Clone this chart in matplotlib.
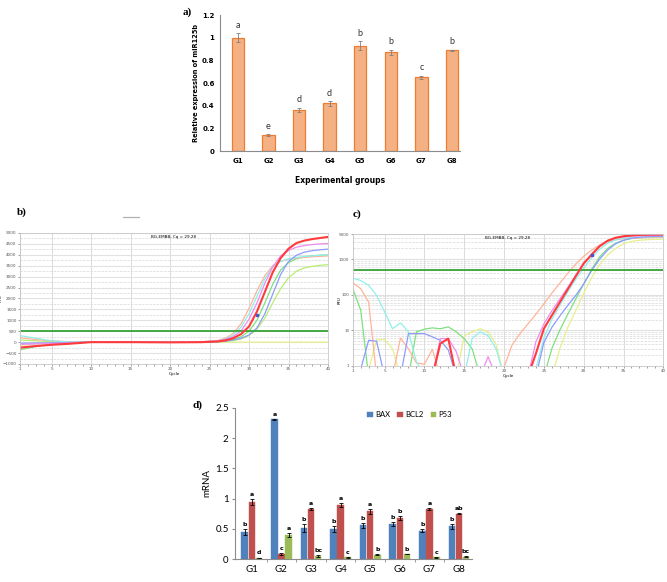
import numpy as np
import matplotlib
matplotlib.use('Agg')
import matplotlib.pyplot as plt
from matplotlib.ticker import FixedLocator, NullFormatter
from matplotlib.lines import Line2D

# ---------------------------------------------------------------- data
groups = ['G1', 'G2', 'G3', 'G4', 'G5', 'G6', 'G7', 'G8']

# a) miR125b
mir = [1.0, 0.14, 0.36, 0.42, 0.93, 0.87, 0.65, 0.89]
mir_err = [0.04, 0.01, 0.02, 0.02, 0.04, 0.025, 0.015, 0.005]
mir_lett = ['a', 'e', 'd', 'd', 'b', 'b', 'c', 'b']

# d) genes
bax = [0.45, 2.31, 0.51, 0.49, 0.56, 0.58, 0.47, 0.54]
bax_err = [0.05, 0.01, 0.07, 0.05, 0.04, 0.03, 0.03, 0.04]
bax_lett = ['b', 'a', 'b', 'b', 'b', 'b', 'b', 'b']
bcl2 = [0.94, 0.08, 0.83, 0.89, 0.79, 0.68, 0.83, 0.75]
bcl2_err = [0.05, 0.02, 0.02, 0.03, 0.04, 0.03, 0.02, 0.01]
bcl2_lett = ['a', 'c', 'a', 'a', 'a', 'b', 'a', 'ab']
p53 = [0.02, 0.40, 0.05, 0.03, 0.07, 0.08, 0.03, 0.04]
p53_err = [0.005, 0.03, 0.01, 0.005, 0.005, 0.005, 0.005, 0.005]
p53_lett = ['d', 'a', 'bc', 'c', 'b', 'b', 'c', 'bc']

# b) amplification curves (linear RFU)
cyc_b = [1, 3, 5, 7, 10, 15, 20, 24, 26, 27, 28, 29, 30, 31, 32, 33, 34, 35, 36, 37, 38, 39, 40]
b_red = [-250, -180, -120, -80, 0, 0, -10, 0, 30, 80, 180, 370, 720, 1400, 2300, 3200, 3850, 4280, 4540, 4650, 4720, 4770, 4820]
b_pink = [-100, -80, -60, -40, 0, 0, -10, 10, 60, 130, 250, 520, 1050, 1800, 2700, 3450, 3950, 4200, 4350, 4420, 4470, 4500, 4520]
b_salmon = [200, 120, 60, 20, 0, 0, -10, 20, 80, 180, 400, 850, 1550, 2350, 3050, 3500, 3700, 3800, 3850, 3880, 3910, 3930, 3950]
b_cyan = [300, 180, 60, 10, 0, 0, -10, 10, 60, 150, 320, 700, 1300, 2100, 2900, 3450, 3700, 3820, 3880, 3920, 3950, 3980, 4000]
b_blue = [-50, -40, -30, -20, 0, 0, -10, 0, 20, 50, 100, 180, 330, 650, 1300, 2200, 3100, 3700, 3980, 4120, 4190, 4230, 4260]
b_green = [-350, -200, -80, -30, 0, 0, -10, 0, 20, 60, 120, 250, 500, 1000, 1800, 2650, 3300, 3650, 3820, 3900, 3950, 3980, 4000]
b_lgreen = [100, 60, 20, 0, 0, 0, -10, 0, 10, 30, 70, 150, 300, 600, 1100, 1800, 2450, 2950, 3250, 3400, 3470, 3520, 3550]
b_yellow = [-150, -80, -40, -20, 0, 0, -10, 0, 0, 0, 0, 0, 0, 0, 0, 0, 0, 0, 0, 0, 0, 0, 0]

# c) amplification curves (log RFU), cycles 1..40, 0.5 = below axis
cyc_c = list(range(1, 41))
c_red = [0.5, 0.5, 0.5, 0.5, 0.5, 0.5, 0.5, 0.5, 0.5, 0.5, 0.5, 4.2, 5.8, 0.5, 0.5, 0.5, 0.5, 0.5, 0.5, 0.5,
         0.5, 0.5, 0.5, 2.2, 11, 26, 61, 142, 330, 760, 1340, 2300, 3300, 4000, 4400, 4650, 4800, 4880, 4920, 4950]
c_pink = [0.5, 0.5, 0.5, 0.5, 0.5, 0.5, 0.5, 0.5, 0.5, 0.5, 0.5, 5.8, 5.8, 2.5, 0.5, 0.5, 0.5, 1.8, 0.5, 0.5,
          0.5, 0.5, 0.5, 4.7, 15, 35, 75, 160, 350, 720, 1400, 2400, 3300, 3900, 4250, 4450, 4550, 4600, 4650, 4700]
c_salmon = [217, 148, 62, 0.5, 0.5, 0.5, 6, 3, 1.2, 1.1, 2.9, 0.5, 0.5, 0.5, 0.5, 0.5, 0.5, 0.5, 0.5, 0.9,
            3.8, 8, 15, 28, 55, 110, 210, 400, 720, 1200, 1800, 2500, 3100, 3500, 3750, 3900, 3980, 4050, 4100, 4150]
c_cyan = [293, 250, 183, 96, 33, 11, 16, 9, 1.3, 0.5, 0.5, 0.5, 0.5, 0.5, 0.5, 5.9, 9, 7, 3, 0.5,
          0.5, 0.5, 0.5, 0.8, 6, 20, 50, 120, 270, 560, 1100, 1900, 2800, 3500, 3900, 4100, 4200, 4250, 4280, 4300]
c_blue = [0.5, 0.8, 5.2, 4.9, 0.5, 0.5, 0.5, 8, 8, 8, 6.5, 5.2, 2.8, 0.5, 0.5, 0.5, 0.5, 0.5, 0.5, 0.5,
          0.5, 0.5, 0.5, 0.5, 4.5, 12, 25, 50, 95, 200, 480, 1000, 1800, 2700, 3400, 3900, 4150, 4300, 4380, 4420]
c_green = [150, 37, 0.5, 0.5, 0.5, 0.5, 0.5, 0.5, 9, 10.7, 11.6, 11, 12.4, 9, 5.8, 3, 0.5, 0.5, 0.5, 0.5,
           0.5, 0.5, 0.5, 0.5, 0.5, 3, 10, 28, 75, 200, 520, 1150, 2000, 2800, 3400, 3800, 4000, 4100, 4150, 4200]
c_yellow = [0.5, 0.5, 0.8, 5.3, 5.5, 3, 0.5, 0.5, 0.5, 0.5, 0.5, 0.5, 0.5, 0.5, 7, 9, 11, 9, 4, 0.5,
            0.5, 0.5, 0.5, 0.5, 0.5, 0.5, 3, 12, 35, 110, 300, 700, 1300, 2000, 2700, 3150, 3400, 3550, 3600, 3650]

curve_cols = {'salmon': '#ffb499', 'cyan': '#8ff0ea', 'pink': '#f08cf0', 'blue': '#8c9cff',
              'green': '#7fe07f', 'lgreen': '#b8ee70', 'yellow': '#e6f08c', 'red': '#ff3b3b'}

# ---------------------------------------------------------------- figure
fig = plt.figure(figsize=(6.67, 5.82), dpi=100)
fig.patch.set_facecolor('white')
x = np.arange(1, 9)

# ----- a)
ax = fig.add_axes([0.330, 0.7405, 0.360, 0.2337])
ax.bar(x, mir, width=0.4, color='#F4B183', edgecolor='#ED7D31', linewidth=0.9)
ax.errorbar(x, mir, yerr=mir_err, fmt='none', ecolor='#808080', elinewidth=0.6, capsize=1.5, capthick=0.6)
for xi, v, e, l in zip(x, mir, mir_err, mir_lett):
    ax.annotate(l, (xi, v + e), xytext=(0, 2.5), textcoords='offset points',
                ha='center', va='bottom', fontsize=6.5, family='Lato', color='#333333')
ax.set_xlim(0.42, 8.27)
ax.set_ylim(0, 1.2)
ax.set_yticks([0, 0.2, 0.4, 0.6, 0.8, 1.0, 1.2])
ax.set_yticklabels(['0', '0.2', '0.4', '0.6', '0.8', '1', '1.2'])
ax.set_xticks(x)
ax.set_xticklabels(groups)
for lab in ax.get_xticklabels() + ax.get_yticklabels():
    lab.set_fontweight('bold')
    lab.set_fontsize(5)
ax.tick_params(axis='y', length=0, pad=4)
ax.tick_params(axis='x', length=0, pad=5)
ax.spines['top'].set_visible(False)
ax.spines['right'].set_visible(False)
ax.spines['left'].set_color('#8c8c8c')
ax.spines['bottom'].set_color('#8c8c8c')
ax.set_ylabel('Relative expression of miR125b', fontsize=4.8, fontweight='bold', labelpad=2)
ax.set_xlabel('Experimental groups', fontsize=5.5, fontweight='bold', labelpad=9)
fig.text(0.274, 0.988, 'a)', fontsize=8, fontweight='bold', family='Liberation Serif', va='top')


def qpcr_style(a):
    a.set_xlim(1, 40)
    a.set_xticks([1, 5, 10, 15, 20, 25, 30, 35, 40])
    a.xaxis.set_minor_locator(FixedLocator(range(1, 41)))
    a.grid(which='major', axis='x', color='#d6d6d6', linewidth=0.6)
    a.tick_params(which='both', labelsize=3, length=1.5, width=0.4, pad=1, colors='#555555')
    for s in a.spines.values():
        s.set_color('#c8c8c8')
        s.set_linewidth(0.6)
    a.set_xlabel('Cycle', fontsize=3, labelpad=0.5)
    a.set_ylabel('RFU', fontsize=2.8)
    a.text(0.5, 0.985, 'BG-EMBB, Cq = 29.28', transform=a.transAxes, ha='center', va='top', fontsize=3)


# ----- b)
axb = fig.add_axes([0.030, 0.3746, 0.4618, 0.2251])
qpcr_style(axb)
axb.yaxis.set_label_coords(-0.055, 0.5)
axb.set_ylim(-1000, 5000)
axb.set_yticks(range(-1000, 5001, 500))
axb.yaxis.set_minor_locator(FixedLocator(range(-750, 5000, 500)))
axb.grid(which='major', axis='y', color='#e2e2e2', linewidth=0.8)
axb.grid(which='minor', axis='y', color='#d8d8d8', linewidth=0.5, linestyle='--')
axb.tick_params(axis='y', which='minor', length=0)
for name, vals in [('yellow', b_yellow), ('lgreen', b_lgreen), ('green', b_green), ('salmon', b_salmon),
                   ('cyan', b_cyan), ('blue', b_blue), ('pink', b_pink)]:
    axb.plot(cyc_b, vals, color=curve_cols[name], linewidth=0.9)
axb.axhline(500, color='#36a336', linewidth=1.3)
axb.plot(cyc_b, b_red, color=curve_cols['red'], linewidth=1.5)
axb.plot([31], [1250], marker='s', markersize=1.8, color='#5050d0')
fig.text(0.026, 0.636, 'b)', fontsize=8, fontweight='bold', family='Liberation Serif', va='center')
fig.add_artist(Line2D([0.184, 0.209], [0.627, 0.627], color='#b0b0b0', linewidth=0.9))

# ----- c)
axc = fig.add_axes([0.5288, 0.3716, 0.4657, 0.2258])
qpcr_style(axc)
axc.yaxis.set_label_coords(-0.035, 0.5)
axc.set_yscale('log')
axc.set_ylim(1, 5000)
axc.yaxis.set_major_locator(FixedLocator([1, 10, 100, 1000, 5000]))
axc.set_yticklabels(['1', '10', '100', '1000', '5000'])
minors = [m * d for d in [1, 10, 100, 1000] for m in range(2, 10) if m * d < 5000]
axc.yaxis.set_minor_locator(FixedLocator(minors))
axc.yaxis.set_minor_formatter(NullFormatter())
axc.grid(which='major', axis='y', color='#e0e0e0', linewidth=0.8)
axc.grid(which='minor', axis='y', color='#d8d8d8', linewidth=0.5, linestyle='--')
axc.tick_params(axis='y', which='minor', length=0)
for name, vals in [('yellow', c_yellow), ('green', c_green), ('salmon', c_salmon),
                   ('cyan', c_cyan), ('blue', c_blue), ('pink', c_pink)]:
    axc.plot(cyc_c, vals, color=curve_cols[name], linewidth=0.9)
axc.axhline(500, color='#36a336', linewidth=1.3)
axc.plot(cyc_c, c_red, color=curve_cols['red'], linewidth=1.5)
axc.plot([31], [1340], marker='s', markersize=1.8, color='#5050d0')
fig.text(0.528, 0.632, 'c)', fontsize=8, fontweight='bold', family='Liberation Serif', va='center')

# ----- d)
axd = fig.add_axes([0.3523, 0.0395, 0.3553, 0.2595])
w = 0.22
series = [(bax, bax_err, bax_lett, '#4F81BD', 'BAX', -0.24),
          (bcl2, bcl2_err, bcl2_lett, '#C0504D', 'BCL2', 0.0),
          (p53, p53_err, p53_lett, '#9BBB59', 'P53', 0.24)]
for vals, errs, letts, col, lab, off in series:
    xs = x + off
    axd.bar(xs, vals, width=w, color=col, edgecolor=col, linewidth=0.3, label=lab)
    axd.errorbar(xs, vals, yerr=errs, fmt='none', ecolor='black', elinewidth=0.6, capsize=1.3, capthick=0.6)
    for xi, v, e, l in zip(xs, vals, errs, letts):
        axd.annotate(l, (xi, v + e), xytext=(0, 1.5), textcoords='offset points',
                     ha='center', va='bottom', fontsize=4.5, fontweight='bold')
axd.set_xlim(0.43, 8.44)
axd.set_ylim(0, 2.5)
axd.set_yticks([0, 0.5, 1, 1.5, 2, 2.5])
axd.set_yticklabels(['0', '0.5', '1', '1.5', '2', '2.5'])
axd.set_xticks(x)
axd.set_xticklabels(groups)
axd.xaxis.set_minor_locator(FixedLocator(np.arange(1.5, 8.5, 1)))
axd.tick_params(axis='x', which='major', length=0, pad=4)
axd.tick_params(axis='x', which='minor', length=2.5, color='#8c8c8c')
axd.tick_params(axis='y', length=2.5, color='#8c8c8c', pad=2)
for lab in axd.get_xticklabels() + axd.get_yticklabels():
    lab.set_family('Lato')
    lab.set_fontsize(7)
axd.spines['top'].set_visible(False)
axd.spines['right'].set_visible(False)
axd.spines['left'].set_color('#8c8c8c')
axd.spines['bottom'].set_color('#8c8c8c')
axd.set_ylabel('mRNA', fontsize=7, family='Lato', labelpad=3)
axd.legend(loc='center left', bbox_to_anchor=(0.53, 0.955), ncol=3, frameon=False,
           prop={'family': 'Lato', 'size': 5.5}, handlelength=0.7, handleheight=0.7,
           columnspacing=0.9, handletextpad=0.35)
fig.text(0.289, 0.304, 'd)', fontsize=8, fontweight='bold', family='Liberation Serif', va='center')

fig.savefig('out.png', dpi=100)
